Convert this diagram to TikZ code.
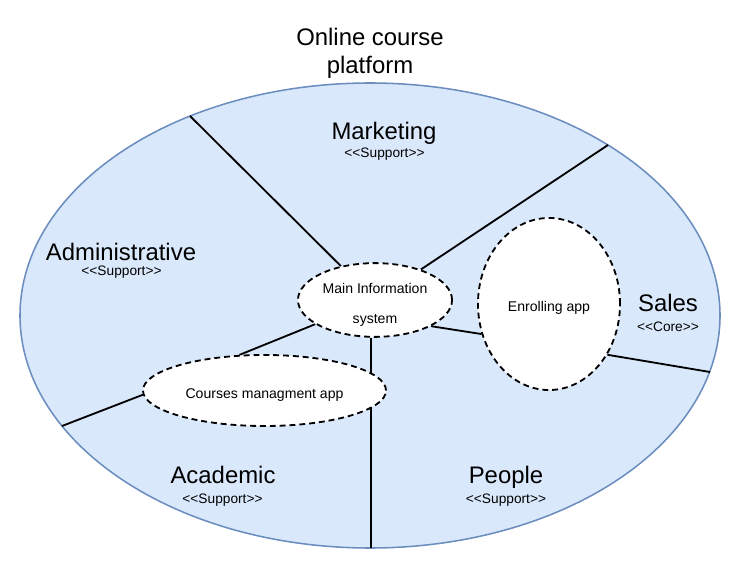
\documentclass[tikz,border=0pt]{standalone}
\usepackage{fontspec}
\setmainfont{Liberation Sans}[Ligatures=TeXOff]
\usetikzlibrary{shapes.geometric, backgrounds, positioning}
\definecolor{ctxfill}{HTML}{DAE8FC}
\definecolor{ctxdraw}{HTML}{6C8EBF}
\tikzset{ctxel/.style={fill=ctxfill, draw=ctxdraw, line width=1.1pt},
    apel/.style={ellipse, draw=black, fill=white, dash pattern=on 4.2pt off 2.8pt,
        line width=1.3pt, inner sep=0pt, align=center, font=\fontsize{10}{12}\selectfont},
    lowtxt/.style={text height=11pt, text depth=0.2pt},
    bnd/.style={draw=black, line width=1.3pt},
    dom/.style={anchor=base, font=\fontsize{17}{20}\selectfont},
    stp/.style={anchor=base, font=\fontsize{9.75}{12}\selectfont}}

\begin{document}
\begin{tikzpicture}[x=0.025cm, y=-0.025cm]
    \useasboundingbox (0, 0) rectangle (751, 571);
    \node[align=center, font=\fontsize{17}{19.8}\selectfont] (ttl) at (370, 53) {Online course\\platform};
    \node[apel, minimum width=3.85cm, minimum height=1.75cm, font=\fontsize{10}{21}\selectfont] (mis) at (375, 300) {\rule{0pt}{14pt}Main Information\\system};
    \node[apel, lowtxt, minimum width=3.55cm, minimum height=4.3cm] (ena) at (549, 304) {Enrolling app};
    \node[apel, lowtxt, minimum width=6.075cm, minimum height=1.775cm] (cma) at (264.5, 390.5) {Courses managment app};
    \coordinate (mkt) at (190, 116);
    \coordinate (sls) at (608, 145);
    \coordinate (slsb) at (710, 372);
    \coordinate (acd) at (62, 426);
    \coordinate (ppl) at (371, 548);
    \begin{pgfonlayer}{background}
        \draw[ctxel] (370, 315.5) ellipse [x radius=350, y radius=232.5];
        \draw[bnd] (mkt) -- (mis);
        \draw[bnd] (sls) -- (mis);
        \draw[bnd] (mis) -- (cma.125);
        \draw[bnd] (mis.south -| ppl) -- (ppl);
        \draw[bnd] (mis.-25) -- (ena.204);
        \draw[bnd] (ena.-41) -- (slsb);
        \draw[bnd] (cma.182) -- (acd);
    \end{pgfonlayer}
    \node[dom] (mktl) at (384, 140) {Marketing};
    \node[stp] (mkts) at (384.5, 158) {<<Support>>};
    \node[dom] (adml) at (121, 261) {Administrative};
    \node[stp] (adms) at (121.5, 276) {<<Support>>};
    \node[dom] (slsl) at (668, 311) {Sales};
    \node[stp] (slss) at (668, 331) {<<Core>>};
    \node[dom] (acdl) at (223, 483) {Academic};
    \node[stp] (acds) at (222.5, 503) {<<Support>>};
    \node[dom] (ppll) at (506, 483) {People};
    \node[stp] (ppls) at (506, 503) {<<Support>>};
\end{tikzpicture}
\end{document}
